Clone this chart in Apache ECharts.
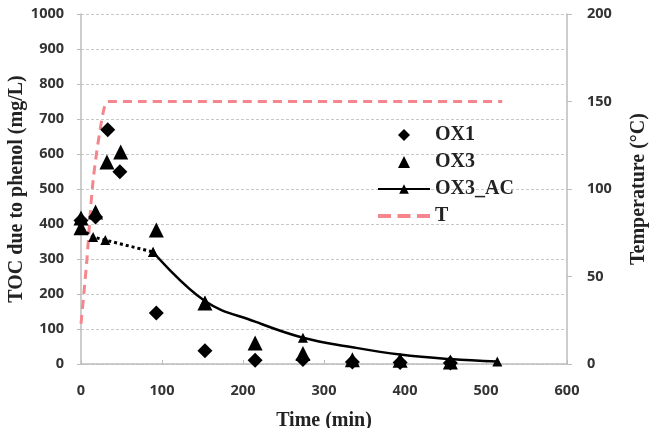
<!DOCTYPE html>
<html>
<head>
<meta charset="utf-8">
<script src="https://cdn.jsdelivr.net/npm/echarts@6/dist/echarts.min.js"></script>
<style>
  html, body {margin: 0; padding: 0; background: #fff;}
  #chart {width: 655px; height: 428px;}
</style>
</head>
<body>
<div id="chart"></div>
<script>
// data (time in min, TOC in mg/L, T in °C)
const ox1Time = [0, 18, 33, 48, 93, 153, 215, 274, 335, 394, 456];
const ox1Toc = [410, 420, 669, 549, 146, 38, 11, 13, 6, 4, 3];

const ox3Time = [0, 0, 18, 32, 49, 93, 153, 215, 274, 335, 394, 456];
const ox3Toc = [417, 389, 434, 577, 606, 383, 174, 60, 30, 12, 11, 6];

// OX3_AC: dotted part (heating) then solid curve
const acDotTime = [0, 15, 30, 89];
const acDotToc = [385, 363, 354, 320];
const acTime = [89, 153, 215, 274, 335, 394, 456, 514];
const acToc = [320, 180, 121, 75, 48, 27, 14, 7];
const acMarked = [true, true, false, true, false, false, false, true];

const tTime = [0, 7, 15, 27, 33, 40, 520];
const tTemp = [23, 58, 105, 143, 150, 150, 150];

const pairs = (xs, ys) => xs.map((x, i) => [x, ys[i]]);

const serif = '"Liberation Serif", "Times New Roman", serif';
const tickFont = {fontFamily: '"Open Sans", Lato, sans-serif', fontWeight: 'bold', fontSize: 14.5, color: '#333'};
const nameFont = {fontFamily: serif, fontWeight: 'bold', fontSize: 20, color: '#222'};
const gridLine = {show: true, lineStyle: {color: '#c8c8c8', type: [3, 2], width: 1}};
const axisLine = {show: true, lineStyle: {color: '#bdbdbd', width: 1.5}};
const tickStyle = {color: '#bdbdbd'};

const chart = echarts.init(document.getElementById('chart'));
chart.setOption({
  animation: false,
  grid: {left: 81, right: 88, top: 14, bottom: 64, outerBoundsMode: 'none'},
  legend: {
    orient: 'vertical',
    left: 377,
    top: 125,
    padding: 0,
    itemWidth: 52,
    itemHeight: 12,
    itemGap: 7,
    textStyle: {fontFamily: serif, fontWeight: 'bold', fontSize: 20, color: '#222'},
    data: [
      {name: 'OX1', icon: 'path://M0,-1L1,0L0,1L-1,0Z', itemStyle: {color: '#000'}},
      {name: 'OX3', icon: 'path://M0,-1L1,1L-1,1Z', itemStyle: {color: '#000'}},
      {name: 'OX3_AC'},
      {name: 'T', icon: 'path://M0,0h10v3h-10zM15,0h10v3h-10zM30,0h10v3h-10z', itemStyle: {color: '#f4868c'}}
    ]
  },
  xAxis: {
    type: 'value',
    min: 0, max: 600, interval: 100,
    name: 'Time (min)',
    nameLocation: 'middle',
    nameGap: 47,
    nameMoveOverlap: false,
    nameTextStyle: nameFont,
    axisLine: axisLine,
    axisTick: {show: true, inside: true, length: 4, lineStyle: tickStyle},
    axisLabel: Object.assign({margin: 19}, tickFont),
    splitLine: {show: false}
  },
  yAxis: [{
    type: 'value',
    min: 0, max: 1000, interval: 100,
    name: 'TOC due to phenol (mg/L)',
    nameLocation: 'middle',
    nameGap: 54,
    nameMoveOverlap: false,
    nameTextStyle: nameFont,
    axisLine: axisLine,
    axisTick: {show: true, length: 4, lineStyle: tickStyle},
    axisLabel: Object.assign({margin: 17, formatter: v => String(v)}, tickFont),
    splitLine: gridLine
  }, {
    type: 'value',
    min: 0, max: 200, interval: 50,
    name: 'Temperature (°C)',
    nameLocation: 'middle',
    nameGap: 62,
    nameMoveOverlap: false,
    nameTextStyle: nameFont,
    axisLine: axisLine,
    axisTick: {show: true, length: 5, lineStyle: tickStyle},
    axisLabel: Object.assign({margin: 20, formatter: v => String(v)}, tickFont),
    splitLine: {show: false}
  }],
  series: [{
    name: 'T',
    type: 'line',
    yAxisIndex: 1,
    data: pairs(tTime, tTemp),
    smooth: 0.3,
    symbol: 'none',
    lineStyle: {color: '#f4868c', width: 3, type: [9, 6]},
    itemStyle: {color: '#f4868c'},
    z: 1
  }, {
    name: 'OX1',
    type: 'scatter',
    data: pairs(ox1Time, ox1Toc),
    symbol: 'diamond',
    symbolSize: 15,
    itemStyle: {color: '#000', opacity: 1},
    z: 3
  }, {
    name: 'OX3',
    type: 'scatter',
    data: pairs(ox3Time, ox3Toc),
    symbol: 'triangle',
    symbolSize: 15,
    itemStyle: {color: '#000', opacity: 1},
    z: 3
  }, {
    name: 'OX3_AC heating',
    type: 'line',
    data: pairs(acDotTime, acDotToc),
    symbol: 'triangle',
    symbolSize: 10,
    lineStyle: {color: '#000', width: 3, type: 'dotted'},
    itemStyle: {color: '#000'},
    z: 2
  }, {
    name: 'OX3_AC',
    type: 'line',
    data: acTime.map((t, i) => ({
      value: [t, acToc[i]],
      symbol: acMarked[i] ? 'triangle' : 'none'
    })),
    smooth: 0.4,
    symbol: 'triangle',
    symbolSize: 10,
    showAllSymbol: true,
    lineStyle: {color: '#000', width: 2.5},
    itemStyle: {color: '#000'},
    z: 2
  }]
});
</script>
</body>
</html>
